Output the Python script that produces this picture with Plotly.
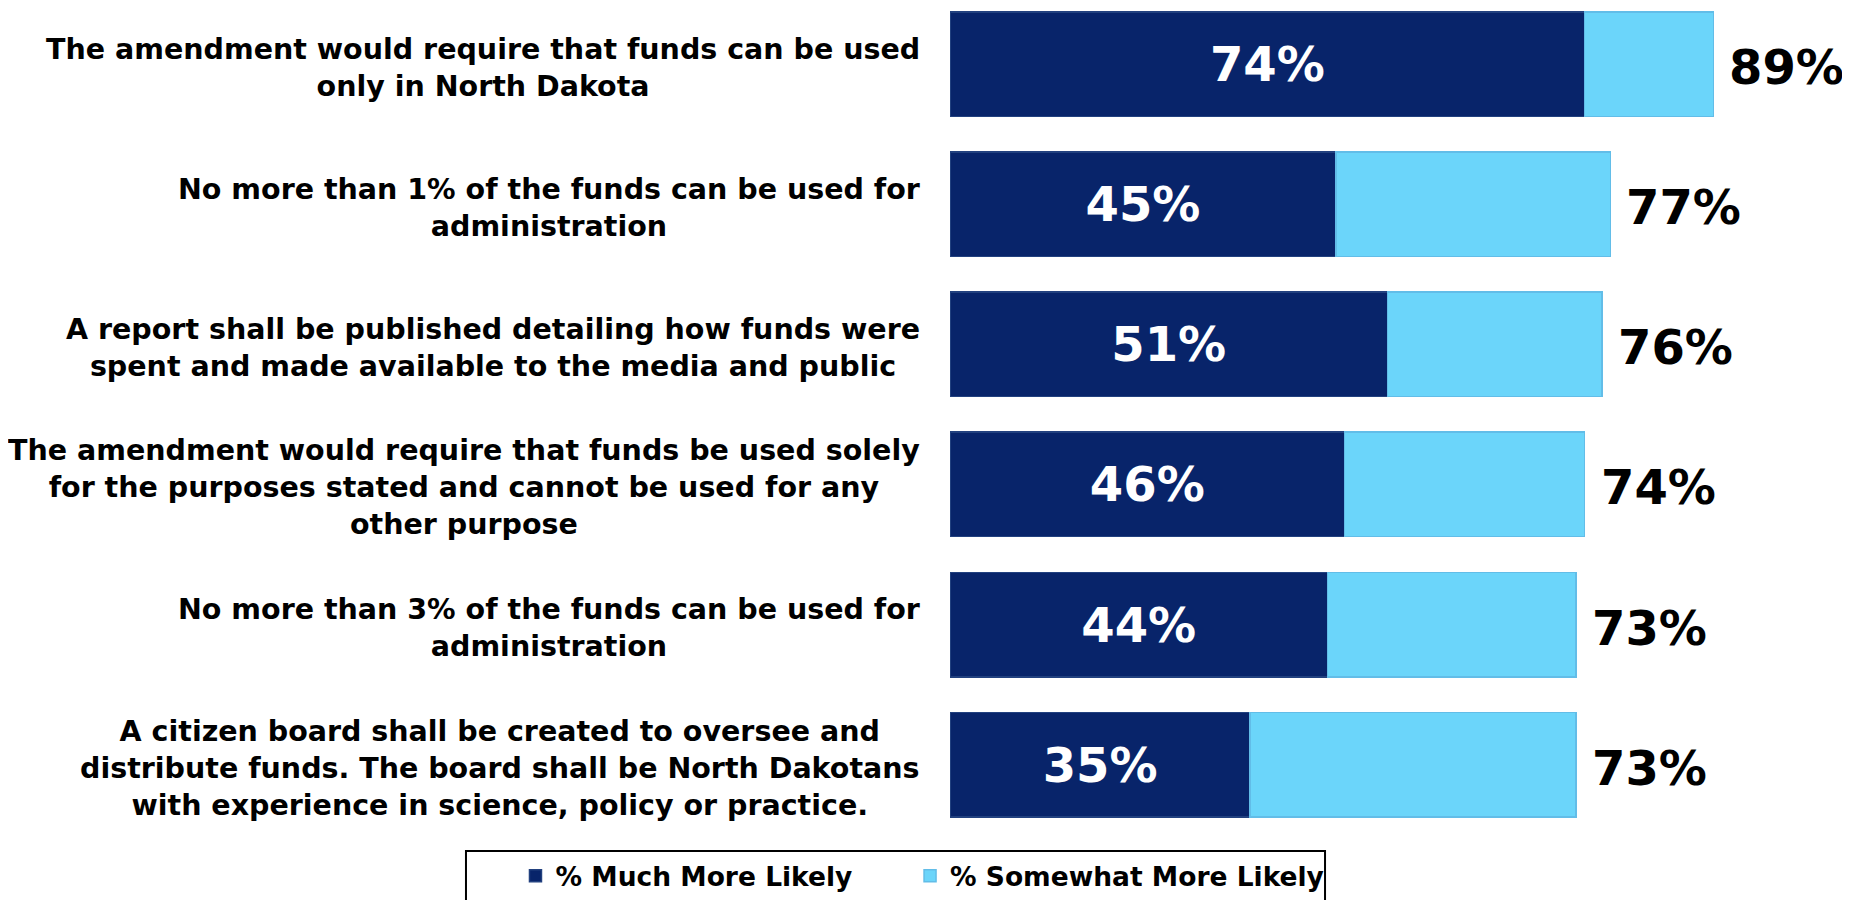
import plotly.graph_objects as go

categories = [
    "The amendment would require that funds can be used<br>only in North Dakota",
    "No more than 1% of the funds can be used for<br>administration",
    "A report shall be published detailing how funds were<br>spent and made available to the media and public",
    "The amendment would require that funds be used solely<br>for the purposes stated and cannot be used for any<br>other purpose",
    "No more than 3% of the funds can be used for<br>administration",
    "A citizen board shall be created to oversee and<br>distribute funds. The board shall be North Dakotans<br>with experience in science, policy or practice.",
]
much_more = [74, 45, 51, 46, 44, 35]
somewhat_more = [15, 32, 25, 28, 29, 38]
totals = [89, 77, 76, 74, 73, 73]
series_names = ["% Much More Likely", "% Somewhat More Likely"]

FONT = "DejaVu Sans"
ys = list(range(len(categories)))

fig = go.Figure()
fig.add_trace(go.Bar(
    y=ys, x=much_more, orientation="h", name=series_names[0],
    marker=dict(color="#08246a", line=dict(color="#22417f", width=1.5)),
    text=[f"{v}%" for v in much_more], textposition="inside",
    insidetextanchor="middle",
    textfont=dict(family=FONT, size=48, color="white", weight="bold"),
    hoverinfo="skip", legend="legend",
))
fig.add_trace(go.Bar(
    y=ys, x=somewhat_more, orientation="h", name=series_names[1],
    marker=dict(color="#6bd5fa", line=dict(color="#62bde8", width=1.5)),
    hoverinfo="skip", legend="legend2",
))

annotations = []
for i, (cat, tot) in enumerate(zip(categories, totals)):
    annotations.append(dict(
        x=tot, y=i, xref="x", yref="y", text=f"{tot}%", showarrow=False,
        xanchor="left", xshift=14, yshift=-3,
        font=dict(family=FONT, size=48, color="black", weight="bold"),
    ))
    annotations.append(dict(
        x=0, y=i, xref="paper", yref="y", text=cat, showarrow=False,
        xanchor="right", xshift=-28, yshift=-3.5, align="center",
        font=dict(family=FONT, size=28.5, color="black", weight="bold"),
    ))

legend_common = dict(
    orientation="h", y=-0.0487, xanchor="left", yanchor="middle",
    borderwidth=0, bgcolor="rgba(0,0,0,0)",
    font=dict(family=FONT, size=26.5, color="black", weight="bold"),
)

fig.update_layout(
    width=1842, height=892,
    margin=dict(l=942, r=0, t=0, b=60),
    barmode="stack", bargap=0.254,
    plot_bgcolor="white", paper_bgcolor="white",
    xaxis=dict(range=[0, 104.93], visible=False),
    yaxis=dict(range=[5.5098, -0.4014], visible=False),
    annotations=annotations,
    shapes=[dict(
        type="rect", xref="paper", yref="paper",
        x0=-0.5378, x1=0.4167, y0=-0.018, y1=-0.09,
        line=dict(color="black", width=2), fillcolor="rgba(0,0,0,0)",
    )],
    showlegend=True,
    legend=dict(x=-0.4828, **legend_common),
    legend2=dict(x=-0.0444, **legend_common),
)

fig.write_html("out.html")
